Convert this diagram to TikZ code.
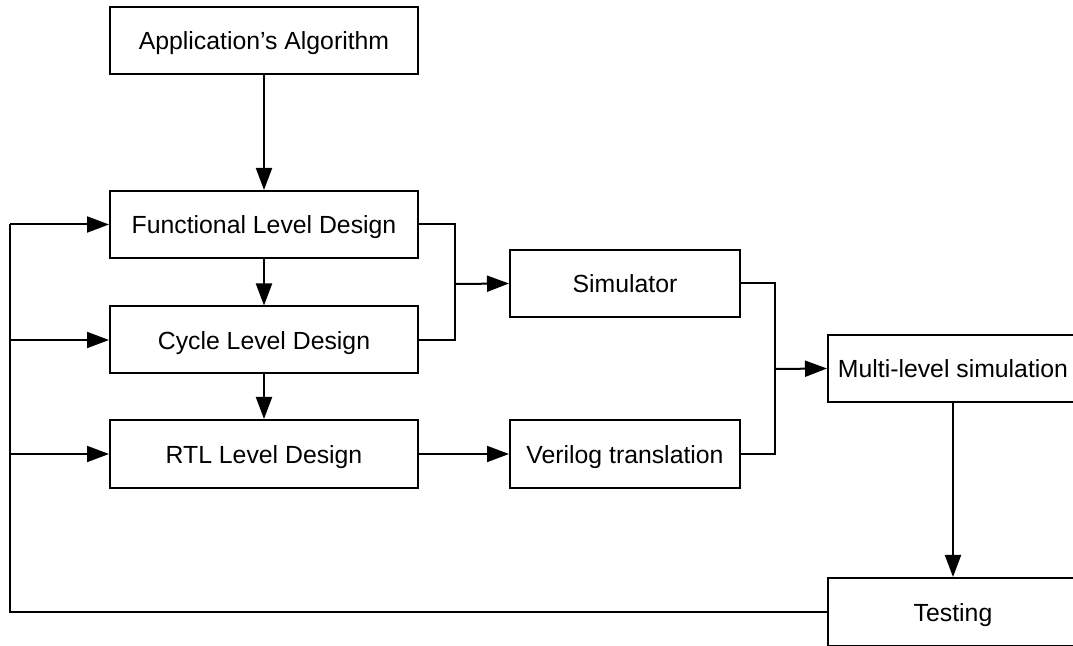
\documentclass[tikz,border=0pt]{standalone}
\usepackage{fontspec}
\setmainfont{Liberation Sans}
\usetikzlibrary{arrows.meta}
\begin{document}
\begin{tikzpicture}[x=0.5pt,y=-0.5pt,
  box/.style={draw=black,line width=1pt,inner sep=0pt,text height=0.95em,text depth=0pt,font=\fontsize{12.4}{14}\selectfont},
  conn/.style={line width=1pt,line join=miter},
  arr/.style={conn,-{Triangle[length=11pt,width=8pt]}}]
\useasboundingbox (0,0) rectangle (1073,646);
\clip (0,0) rectangle (1073,646);
\node[box,minimum width=154pt,minimum height=33.5pt] (app) at (264,40.5) {Application’s Algorithm};
\node[box,minimum width=154pt,minimum height=33.5pt] (func) at (264,224.5) {Functional Level Design};
\node[box,minimum width=154pt,minimum height=33.5pt] (cyc) at (264,340) {Cycle Level Design};
\node[box,minimum width=154pt,minimum height=34pt] (rtl) at (264,454) {RTL Level Design};
\node[box,minimum width=115pt,minimum height=33.5pt] (sim) at (625,283.5) {Simulator};
\node[box,minimum width=115pt,minimum height=34pt] (ver) at (625,454) {Verilog translation};
\node[box,minimum width=125pt,minimum height=33.5pt] (multi) at (953,368.5) {Multi-level simulation};
\node[box,minimum width=125pt,minimum height=34pt] (test) at (953,612) {Testing};
\coordinate (j1) at (455,284);
\coordinate (j2) at (775,369);
\coordinate (L) at (10,224.5);
\draw[arr] (app) -- (func);
\draw[arr] (func) -- (cyc);
\draw[arr] (cyc) -- (rtl);
\draw[conn] (func.east) -| (j1);
\draw[conn] (cyc.east) -| (j1);
\draw[arr] (j1) -- (sim.west);
\draw[arr] (rtl) -- (ver);
\draw[conn] (sim.east) -| (j2);
\draw[conn] (ver.east) -| (j2);
\draw[arr] (j2) -- (multi.west);
\draw[arr] (multi) -- (test);
\draw[conn] (test.west) -| (L);
\draw[arr] (L) -- (func.west);
\draw[arr] (L |- cyc.west) -- (cyc.west);
\draw[arr] (L |- rtl.west) -- (rtl.west);
\end{tikzpicture}
\end{document}
